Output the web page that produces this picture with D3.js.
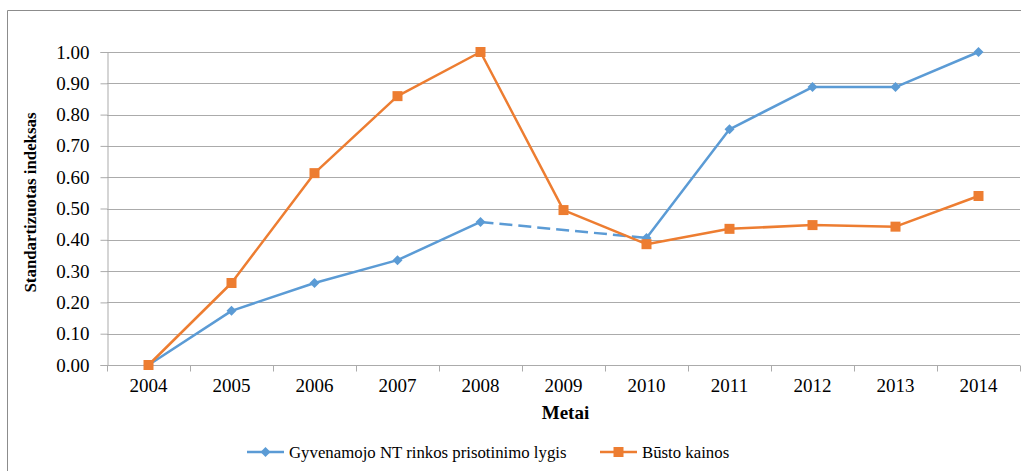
<!DOCTYPE html>
<html lang="lt">
<head>
    <meta charset="utf-8">
    <title>Standartizuotas indeksas</title>
    <style>
        body { margin: 0; background: #fff; }
        svg text { font-family: 'Liberation Serif', 'Times New Roman', serif; fill: #000; }
    </style>
    <script src="https://d3js.org/d3.v7.min.js" charset="utf-8"></script>
</head>
<body>
    <svg id="chart" width="1029" height="471"></svg>

    <script type="text/javascript">
      var years = ["2004", "2005", "2006", "2007", "2008", "2009", "2010", "2011", "2012", "2013", "2014"];
      // 2009 has no value for the first series, the gap is drawn dashed
      var prisotinimas = [0, 0.173, 0.262, 0.335, 0.457, null, 0.406, 0.753, 0.888, 0.888, 1.0];
      var kainos = [0, 0.262, 0.613, 0.859, 1.0, 0.495, 0.386, 0.435, 0.447, 0.442, 0.54];
      var yTicks = [0, 0.1, 0.2, 0.3, 0.4, 0.5, 0.6, 0.7, 0.8, 0.9, 1.0];
      var seriesNames = ["Gyvenamojo NT rinkos prisotinimo lygis", "Būsto kainos"];

      var blue = "#5b9bd5", orange = "#ed7d31", grid = "#ababab";
      var plotL = 107, plotR = 1020, plotT = 52, plotB = 365;

      var svg = d3.select("#chart");

      // outer frame (only top and left edges are visible)
      svg.append("path")
        .attr("d", "M7.5,471 V10.5 H1021")
        .attr("fill", "none")
        .attr("stroke", "#8c8c8c")
        .attr("stroke-width", 1);

      var x = d3.scaleBand().domain(years).range([plotL, plotR]);
      var y = d3.scaleLinear().domain([0, 1]).range([plotB, plotT]);
      var cx = function(d) { return x(d) + x.bandwidth() / 2; };

      // gridlines
      svg.append("g").selectAll("line")
        .data(yTicks.slice(1))
        .join("line")
        .attr("x1", plotL).attr("x2", plotR)
        .attr("y1", d => Math.round(y(d)) + 0.5)
        .attr("y2", d => Math.round(y(d)) + 0.5)
        .attr("stroke", grid);

      // y axis
      var yAxis = svg.append("g")
        .attr("transform", "translate(" + (plotL + 0.5) + ",0)")
        .call(d3.axisLeft(y).tickValues(yTicks).tickFormat(d3.format(".2f")).tickSizeOuter(0).tickSize(7).tickPadding(11));
      yAxis.select(".domain").attr("stroke", grid);
      yAxis.selectAll(".tick line").attr("stroke", grid);
      yAxis.selectAll("text").style("font-size", "19px").attr("fill", "#000");

      // x axis
      var xAxis = svg.append("g")
        .attr("transform", "translate(0," + (plotB + 0.5) + ")")
        .call(d3.axisBottom(x).tickSize(0).tickPadding(13));
      xAxis.select(".domain").attr("stroke", grid).attr("d", "M" + plotL + ",0H" + plotR);
      xAxis.selectAll("text").style("font-size", "19px").attr("fill", "#000");
      // tick marks between categories
      xAxis.append("g").selectAll("line")
        .data(years.concat(["end"]))
        .join("line")
        .attr("x1", (d, i) => Math.round(plotL + i * x.bandwidth()) + 0.5)
        .attr("x2", (d, i) => Math.round(plotL + i * x.bandwidth()) + 0.5)
        .attr("y1", 0).attr("y2", 6)
        .attr("stroke", grid);

      // axis titles
      svg.append("text")
        .attr("x", (plotL + plotR) / 2 + 2)
        .attr("y", 419)
        .attr("text-anchor", "middle")
        .style("font-size", "19px")
        .style("font-weight", "bold")
        .text("Metai");

      svg.append("text")
        .attr("transform", "translate(36," + ((plotT + plotB) / 2 - 6) + ") rotate(-90)")
        .attr("text-anchor", "middle")
        .style("font-size", "16px")
        .style("font-weight", "bold")
        .attr("textLength", 180)
        .attr("lengthAdjust", "spacingAndGlyphs")
        .text("Standartizuotas indeksas");

      var line = d3.line()
        .defined(d => d.v !== null)
        .x(d => cx(d.year))
        .y(d => y(d.v));

      var blueData = years.map((yr, i) => ({ year: yr, v: prisotinimas[i] }));
      var orangeData = years.map((yr, i) => ({ year: yr, v: kainos[i] }));

      // dashed connector over missing values
      var gaps = [];
      blueData.forEach(function(d, i) {
        if (d.v === null) {
          var a = i - 1, b = i + 1;
          while (b < blueData.length && blueData[b].v === null) b++;
          if (a >= 0 && b < blueData.length) gaps.push([blueData[a], blueData[b]]);
        }
      });
      svg.append("g").selectAll("path")
        .data(gaps)
        .join("path")
        .attr("d", d => d3.line().x(p => cx(p.year)).y(p => y(p.v))(d))
        .attr("fill", "none")
        .attr("stroke", blue)
        .attr("stroke-width", 2.5)
        .attr("stroke-dasharray", "13,6");

      svg.append("path")
        .attr("d", line(blueData))
        .attr("fill", "none")
        .attr("stroke", blue)
        .attr("stroke-width", 2.5)
        .attr("stroke-linejoin", "round");

      svg.append("path")
        .attr("d", line(orangeData))
        .attr("fill", "none")
        .attr("stroke", orange)
        .attr("stroke-width", 2.5)
        .attr("stroke-linejoin", "round");

      var diamond = "M0,-5L5,0L0,5L-5,0Z";
      var square = "M-5,-5H5V5H-5Z";

      svg.append("g").selectAll("path")
        .data(blueData.filter(d => d.v !== null))
        .join("path")
        .attr("transform", d => "translate(" + cx(d.year) + "," + y(d.v) + ")")
        .attr("d", diamond)
        .attr("fill", blue);

      svg.append("g").selectAll("path")
        .data(orangeData)
        .join("path")
        .attr("transform", d => "translate(" + cx(d.year) + "," + y(d.v) + ")")
        .attr("d", square)
        .attr("fill", orange);

      // legend
      var legend = [
        { name: seriesNames[0], color: blue, marker: diamond, x: 247 },
        { name: seriesNames[1], color: orange, marker: square, x: 600 }
      ];
      var lg = svg.append("g").selectAll("g")
        .data(legend)
        .join("g")
        .attr("transform", d => "translate(" + d.x + ",452)");
      lg.append("line")
        .attr("x1", 0).attr("x2", 37)
        .attr("stroke", d => d.color)
        .attr("stroke-width", 2.5);
      lg.append("path")
        .attr("transform", "translate(18.5,0)")
        .attr("d", d => d.marker)
        .attr("fill", d => d.color);
      lg.append("text")
        .attr("x", 42)
        .attr("y", 6)
        .style("font-size", "16.8px")
        .text(d => d.name);
    </script>
</body>
</html>
